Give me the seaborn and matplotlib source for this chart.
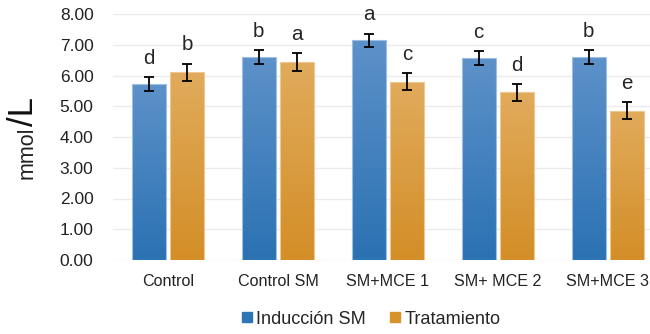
import numpy as np
import pandas as pd
import matplotlib
matplotlib.use("Agg")
import matplotlib.pyplot as plt
from matplotlib.colors import LinearSegmentedColormap
from matplotlib.lines import Line2D
import seaborn as sns

grupos = ["Control", "Control SM", "SM+MCE 1", "SM+ MCE 2", "SM+MCE 3"]
series = ["Inducción SM", "Tratamiento"]
induccion = [5.73, 6.59, 7.14, 6.56, 6.59]
tratamiento = [6.11, 6.44, 5.80, 5.45, 4.86]
err_induccion = [0.23, 0.23, 0.22, 0.23, 0.23]
err_tratamiento = [0.28, 0.28, 0.27, 0.27, 0.27]
letras_induccion = ["d", "b", "a", "c", "b"]
letras_tratamiento = ["b", "a", "c", "d", "e"]

df = pd.DataFrame({
    "grupo": grupos * 2,
    "serie": [series[0]] * 5 + [series[1]] * 5,
    "valor": induccion + tratamiento,
})

sns.set_style("white")
plt.rcParams["font.family"] = ["Liberation Sans", "DejaVu Sans"]

colores = ["#2e75b6", "#d8922a"]
grad = [("#5d91c9", "#2b72b3"), ("#e1ab5c", "#d38e27")]  # arriba -> abajo
bordes = ["#9dbfe3", "#eec890"]

fig = plt.figure(figsize=(6.5, 3.34), dpi=100)
ax = fig.add_axes([113 / 650, 1 - 260 / 334, 550 / 650, 246 / 334])

sns.barplot(data=df, x="grupo", y="valor", hue="serie", order=grupos, hue_order=series,
            palette=colores, width=0.70, gap=0.12, errorbar=None, ax=ax, legend=False)

errores = [err_induccion, err_tratamiento]
letras = [letras_induccion, letras_tratamiento]
barras = list(ax.containers)
for i, cont in enumerate(barras):
    cmap = LinearSegmentedColormap.from_list("g%d" % i, [grad[i][1], grad[i][0]])
    for j, bar in enumerate(cont):
        x0, y0 = bar.get_x(), bar.get_y()
        w, h = bar.get_width(), bar.get_height()
        bar.set_facecolor("none")
        bar.set_edgecolor(bordes[i])
        bar.set_linewidth(0.8)
        g = np.linspace(0, 1, 100).reshape(-1, 1)
        im = ax.imshow(g, extent=[x0, x0 + w, y0, y0 + h], origin="lower", aspect="auto",
                       cmap=cmap, zorder=bar.get_zorder() - 0.1)
        im.set_clip_path(bar)
        xc = x0 + w / 2
        ax.errorbar(xc, h, yerr=errores[i][j], fmt="none", ecolor="black",
                    elinewidth=1.3, capsize=3.6, capthick=1.3, zorder=5)
        ax.annotate(letras[i][j], (xc, h + errores[i][j]), xytext=(0, 9.5),
                    textcoords="offset points", ha="center", va="baseline", fontsize=14.8)

ax.set_xlim(-0.5, 4.5)
ax.set_ylim(0, 8)
ax.set_yticks(np.arange(0, 8.01, 1))
ax.set_yticklabels(["%.2f" % v for v in np.arange(0, 8.01, 1)], fontsize=12.5, color="#222222")
ax.tick_params(axis="x", labelsize=11.6, colors="#222222", pad=10)
ax.tick_params(axis="y", pad=14, length=0)
ax.tick_params(axis="x", length=0)
ax.set_xlabel("")
ax.set_ylabel("")
ax.grid(axis="y", color="#ebebeb", linewidth=1)
ax.set_axisbelow(True)
for s in ax.spines.values():
    s.set_visible(False)

# etiqueta del eje y: "mmol" pequeño y "/L" grande
fig.text(33 / 650, 1 - 153 / 334, "mmol", rotation=90, rotation_mode="anchor",
         ha="center", va="baseline", fontsize=15.5, color="#222222")
fig.text(33 / 650, 1 - 126 / 334, "/L", rotation=90, rotation_mode="anchor",
         ha="left", va="baseline", fontsize=25, color="#111111")

handles = [Line2D([], [], marker="s", linestyle="", markersize=7, color=c) for c in colores]
fig.legend(handles, series, loc="center", bbox_to_anchor=(370 / 650, 1 - 319 / 334), ncol=2,
           frameon=False, fontsize=13.1, handletextpad=0.1, columnspacing=1.2, handlelength=0.8)

fig.savefig("out.png", dpi=100)
